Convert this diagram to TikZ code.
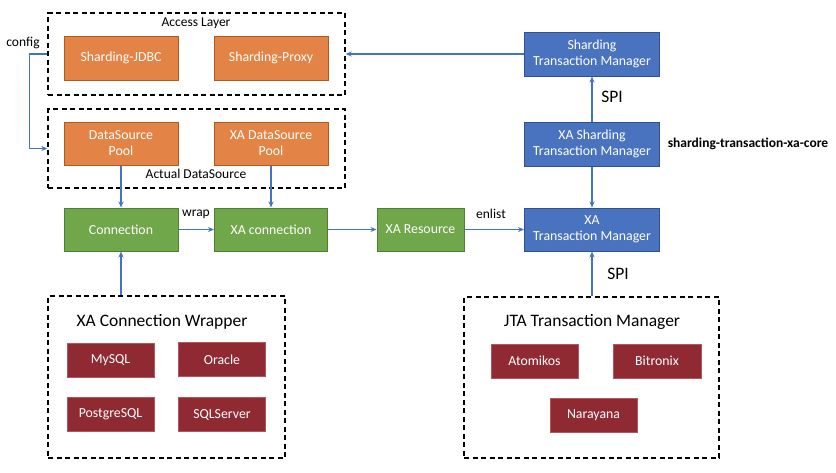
\documentclass[tikz,border=0pt]{standalone}
\usepackage{fontspec}
\setmainfont{Carlito}
\usetikzlibrary{arrows.meta}
\definecolor{orfill}{HTML}{E38345}
\definecolor{ordraw}{HTML}{AE5A21}
\definecolor{grfill}{HTML}{71A74B}
\definecolor{grdraw}{HTML}{507E32}
\definecolor{blfill}{HTML}{4A73BF}
\definecolor{bldraw}{HTML}{2F528F}
\definecolor{rdfill}{HTML}{8F2A33}
\definecolor{rddraw}{HTML}{B5545C}
\definecolor{arrcol}{HTML}{4472C4}
\tikzset{
  boxbase/.style={rectangle, line width=1pt, text=white, align=center, inner sep=0pt,
    font=\fontsize{13.8}{16}\selectfont},
  orbox/.style={boxbase, fill=orfill, draw=ordraw, minimum width=114pt, minimum height=44pt},
  grbox/.style={boxbase, fill=grfill, draw=grdraw, minimum height=43pt},
  blbox/.style={boxbase, fill=blfill, draw=bldraw, minimum width=135pt, minimum height=44pt},
  rdbox/.style={boxbase, fill=rdfill, draw=rddraw, minimum width=87pt, minimum height=34pt},
  group/.style={rectangle, draw=black, line width=1.4pt, dash pattern=on 5pt off 3.5pt, inner sep=0pt},
  lbl/.style={text=black, inner sep=0pt, font=\fontsize{13.5}{16}\selectfont},
  biglbl/.style={text=black, inner sep=0pt, font=\fontsize{17.5}{20}\selectfont},
  arr/.style={draw=arrcol, line width=1.4pt, -{Stealth[length=6pt,width=5pt]}},
}
\begin{document}
\begin{tikzpicture}[x=1pt,y=-1pt]
\useasboundingbox (0,0) rectangle (836,472);
% groups
\node[group, minimum width=297pt, minimum height=82pt] (access) at (196.5,54) {};
\node[group, minimum width=297pt, minimum height=79pt] (actual) at (196.5,148.5) {};
\node[group, minimum width=237pt, minimum height=162pt] (wrapper) at (166.5,377) {};
\node[group, minimum width=255pt, minimum height=161pt] (jta) at (591.5,377.5) {};
% group labels
\node[lbl] (accesslbl) at (196,23) {Access Layer};
\node[lbl] (actuallbl) at (196,174) {Actual DataSource};
\node[biglbl] (wrapperlbl) at (162,322) {XA Connection Wrapper};
\node[biglbl] (jtalbl) at (592,322) {JTA Transaction Manager};
% orange
\node[orbox] (jdbc) at (121,58) {Sharding-JDBC};
\node[orbox] (proxy) at (271,58) {Sharding-Proxy};
\node[orbox, minimum height=43pt] (dsp) at (121,143.5) {DataSource\\Pool};
\node[orbox, minimum height=43pt] (xadsp) at (271,143.5) {XA DataSource\\Pool};
% green
\node[grbox, minimum width=114pt] (conn) at (121,229.5) {Connection};
\node[grbox, minimum width=113pt] (xaconn) at (271,229.5) {XA connection};
\node[grbox, minimum width=87pt] (xares) at (420.5,229.5) {XA Resource};
% blue
\node[blbox] (stm) at (592,54) {Sharding\\Transaction Manager};
\node[blbox] (xastm) at (592,144) {XA Sharding\\Transaction Manager};
\node[blbox, minimum height=43pt] (xatm) at (592,229.5) {XA\\Transaction Manager};
% red
\node[rdbox] (mysql) at (110.5,360) {MySQL};
\node[rdbox] (oracle) at (222,359.5) {Oracle};
\node[rdbox] (pg) at (110.5,414.5) {PostgreSQL};
\node[rdbox] (sqls) at (222,414.5) {SQLServer};
\node[rdbox] (atom) at (534.5,361) {Atomikos};
\node[rdbox, minimum width=88pt] (bitr) at (657,361) {Bitronix};
\node[rdbox] (nara) at (593.5,415) {Narayana};
% labels
\node[lbl] (configlbl) at (23,43) {config};
\node[lbl] (wraplbl) at (196,214) {wrap};
\node[lbl] (enlistlbl) at (491,214) {enlist};
\node[biglbl] (spi1) at (612,97) {SPI};
\node[biglbl] (spi2) at (618,274) {SPI};
\node[lbl, font=\bfseries\fontsize{13.5}{16}\selectfont] (corelbl) at (748,144) {sharding-transaction-xa-core};
% connectors
\draw[arr] (stm.west) -- (access.east);
\draw[arr] (access.west) -- ++(-18,0) |- (actual.west);
\draw[arr] (dsp.south) -- (conn.north);
\draw[arr] (xadsp.south) -- (xaconn.north);
\draw[arr] (conn.east) -- (xaconn.west);
\draw[arr] (xaconn.east) -- (xares.west);
\draw[arr] (xares.east) -- (xatm.west);
\draw[arr] (xastm.north) -- (stm.south);
\draw[arr] (xastm.south) -- (xatm.north);
\draw[arr] (jta.north -| xatm.south) -- (xatm.south);
\draw[arr] (wrapper.north -| conn.south) -- (conn.south);
\end{tikzpicture}
\end{document}
